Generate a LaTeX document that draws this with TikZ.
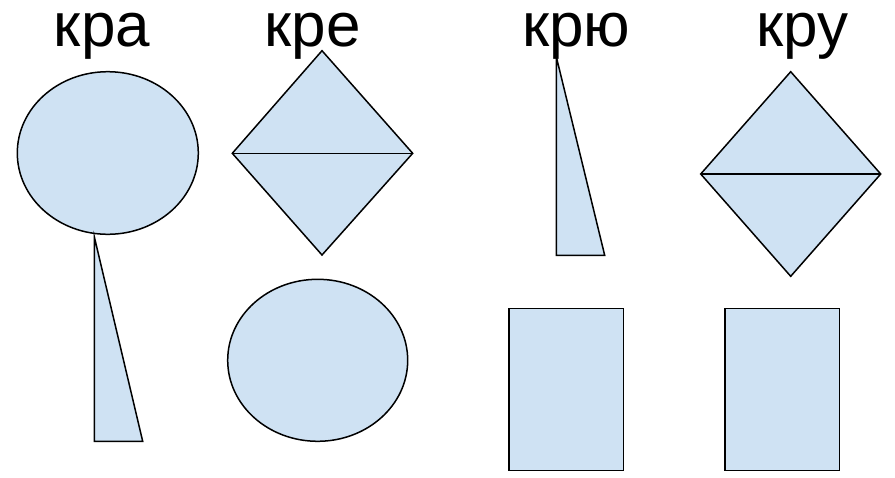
\documentclass[tikz,border=0pt]{standalone}
\usepackage{fontspec}
\setmainfont{Liberation Sans}
\definecolor{shapefill}{HTML}{CFE2F3}
\begin{document}
\begin{tikzpicture}[x=1pt,y=-1pt,
  figshape/.style={draw=black,fill=shapefill,line width=1.5pt,line join=miter},
  word/.style={anchor=base,inner sep=0pt,text height=33pt,text depth=13pt,font=\fontsize{62}{62}\selectfont}]
\useasboundingbox (0,0) rectangle (895,477);
% column 1
\node[word] (t1) at (102,46.7) {кра};
\draw[figshape] (107.8,153) ellipse [x radius=90.5pt, y radius=81.3pt];
\draw[figshape] (94.3,236.7) -- (94.3,441.3) -- (142.7,441.3) -- cycle;
% column 2
\node[word] (t2) at (312.5,46.7) {кре};
\draw[figshape] (322,50.7) -- (412.7,153.3) -- (322,255) -- (232.3,153.3) -- cycle;
\draw[figshape] (232.3,153.3) -- (412.7,153.3);
\draw[figshape] (317.7,360.3) ellipse [x radius=90pt, y radius=81pt];
% column 3
\node[word] (t3) at (576.3,46.7) {крю};
\draw[figshape] (556.3,56.7) -- (556.3,255.3) -- (604.7,255.3) -- cycle;
\draw[figshape] (509.2,308.7) rectangle (623.7,470.7);
% column 4
\node[word] (t4) at (802.5,46.7) {кру};
\draw[figshape] (790.7,71.7) -- (880.7,174) -- (790.7,276.3) -- (700.7,174) -- cycle;
\draw[figshape] (700.7,174) -- (880.7,174);
\draw[figshape] (725,308.7) rectangle (839.3,470.7);
\end{tikzpicture}
\end{document}
